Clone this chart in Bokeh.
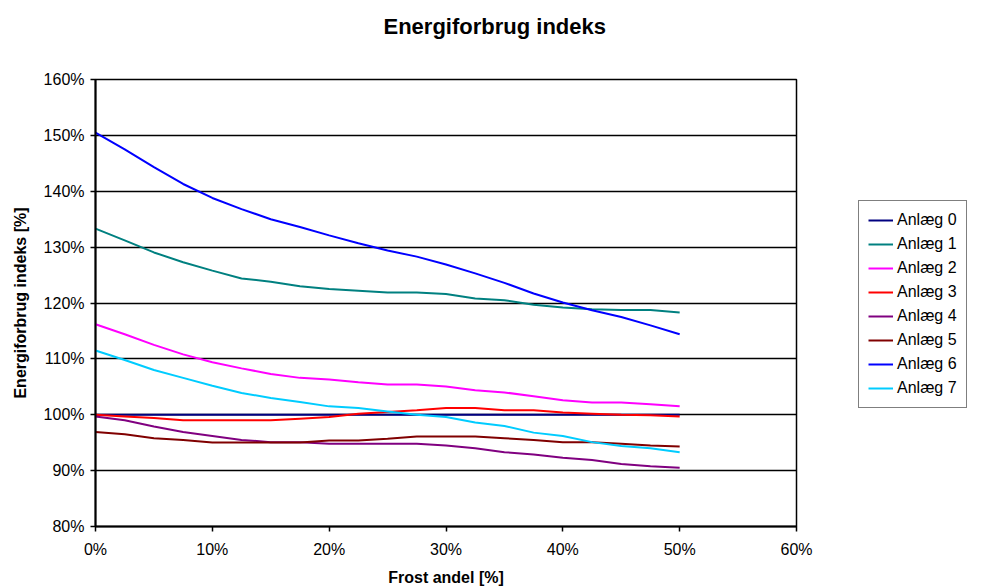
from bokeh.plotting import figure
from bokeh.layouts import row
from bokeh.models import (Range1d, FixedTicker, PrintfTickFormatter, Legend, LegendItem, Title)
from bokeh.embed import file_html
from bokeh.resources import INLINE

# Frost share [%] on the x axis
frost = [0, 2.5, 5, 7.5, 10, 12.5, 15, 17.5, 20, 22.5, 25,
         27.5, 30, 32.5, 35, 37.5, 40, 42.5, 45, 47.5, 50]

# Energy use index [%] per plant
anlaeg_0 = [100.0] * 21
anlaeg_1 = [133.3, 131.2, 129.05, 127.3, 125.8, 124.4, 123.8, 123.0, 122.5, 122.2, 121.9,
            121.9, 121.6, 120.8, 120.5, 119.7, 119.2, 118.9, 118.75, 118.75, 118.3]
anlaeg_2 = [116.2, 114.4, 112.5, 110.8, 109.4, 108.3, 107.3, 106.6, 106.3, 105.8, 105.4,
            105.4, 105.05, 104.4, 104.0, 103.3, 102.6, 102.2, 102.2, 101.9, 101.5]
anlaeg_3 = [100.0, 99.7, 99.4, 99.0, 99.0, 99.0, 99.0, 99.3, 99.6, 100.2, 100.5,
            100.8, 101.2, 101.2, 100.8, 100.8, 100.4, 100.2, 100.0, 99.9, 99.7]
anlaeg_4 = [99.7, 99.0, 97.9, 96.9, 96.2, 95.5, 95.1, 95.1, 94.8, 94.8, 94.8,
            94.8, 94.5, 94.0, 93.3, 92.9, 92.3, 91.9, 91.2, 90.8, 90.5]
anlaeg_5 = [96.9, 96.5, 95.8, 95.5, 95.05, 95.05, 95.05, 95.05, 95.4, 95.4, 95.7,
            96.1, 96.1, 96.1, 95.8, 95.5, 95.1, 95.1, 94.8, 94.5, 94.3]
anlaeg_6 = [150.5, 147.5, 144.3, 141.3, 138.8, 136.8, 135.0, 133.6, 132.1, 130.7, 129.4,
            128.3, 126.9, 125.3, 123.6, 121.7, 120.1, 118.7, 117.5, 116.0, 114.4]
anlaeg_7 = [111.5, 109.8, 108.0, 106.6, 105.2, 103.9, 103.0, 102.3, 101.5, 101.2, 100.6,
            100.0, 99.6, 98.6, 98.0, 96.8, 96.2, 95.1, 94.4, 94.0, 93.3]

series_names = ["Anlæg 0", "Anlæg 1", "Anlæg 2", "Anlæg 3",
                "Anlæg 4", "Anlæg 5", "Anlæg 6", "Anlæg 7"]
series_values = [anlaeg_0, anlaeg_1, anlaeg_2, anlaeg_3,
                 anlaeg_4, anlaeg_5, anlaeg_6, anlaeg_7]
series_colors = ["#000080", "#008080", "#FF00FF", "#FF0000",
                 "#800080", "#800000", "#0000FF", "#00CCFF"]

x_ticks = [0, 10, 20, 30, 40, 50, 60]
y_ticks = [80, 90, 100, 110, 120, 130, 140, 150, 160]

FONT = "Liberation Sans"

# ---- main chart ----
p = figure(width=830, height=588, output_backend="svg", toolbar_location=None,
           x_range=Range1d(0, 60), y_range=Range1d(80, 160),
           min_border_left=95, min_border_right=34,
           min_border_top=79, min_border_bottom=61)

# spacer panel between the frame and the title, then the title itself
p.add_layout(Title(text=" ", text_font_size="10px", standoff=26), "above")
p.add_layout(Title(text="Energiforbrug indeks", text_font=FONT, text_font_size="22px",
                   text_font_style="bold", text_color="black", align="left",
                   offset=288, vertical_align="top", standoff=0), "above")

p.background_fill_color = "white"
p.border_fill_color = "white"
p.outline_line_color = "black"
p.outline_line_width = 1.5

p.xgrid.visible = False
p.ygrid.ticker = FixedTicker(ticks=y_ticks)
p.ygrid.grid_line_color = "black"
p.ygrid.grid_line_width = 1.5
p.ygrid.grid_line_alpha = 1.0

for ax in (p.xaxis[0], p.yaxis[0]):
    ax.formatter = PrintfTickFormatter(format="%d%%")
    ax.axis_line_color = "black"
    ax.axis_line_width = 2
    ax.major_tick_line_color = "black"
    ax.major_tick_line_width = 1.5
    ax.major_tick_out = 5
    ax.major_tick_in = 0
    ax.minor_tick_line_color = None
    ax.major_label_text_font = FONT
    ax.major_label_text_font_size = "16px"
    ax.major_label_text_color = "black"
    ax.axis_label_text_font = FONT
    ax.axis_label_text_font_size = "16px"
    ax.axis_label_text_font_style = "bold"
    ax.axis_label_text_color = "black"

p.xaxis.ticker = FixedTicker(ticks=x_ticks)
p.yaxis.ticker = FixedTicker(ticks=y_ticks)
p.xaxis.axis_label = "Frost andel [%]"
p.yaxis.axis_label = "Energiforbrug indeks [%]"
p.xaxis.major_label_standoff = 9
p.yaxis.major_label_standoff = 6
p.xaxis.axis_label_standoff = 8
p.yaxis.axis_label_standoff = 12

for vals, col in zip(series_values, series_colors):
    p.line(x=frost, y=vals, line_color=col, line_width=2)

# ---- legend panel on the right ----
lg = figure(width=156, height=588, output_backend="svg", toolbar_location=None,
            x_axis_type=None, y_axis_type=None, min_border=0,
            x_range=Range1d(0, 1), y_range=Range1d(0, 1))
lg.grid.visible = False
lg.outline_line_color = None
lg.background_fill_color = "white"
lg.border_fill_color = "white"

items = []
for name, vals, col in zip(series_names, series_values, series_colors):
    r = lg.line(x=frost, y=vals, line_color=col, line_width=2)
    items.append(LegendItem(label=name, renderers=[r]))

legend = Legend(items=items, location=(28, 118))
legend.label_text_font = FONT
legend.label_text_font_size = "16px"
legend.label_text_color = "black"
legend.glyph_width = 25
legend.glyph_height = 20
legend.label_height = 20
legend.label_standoff = 4
legend.spacing = 4
legend.padding = 9
legend.margin = 0
legend.border_line_color = "black"
legend.border_line_width = 1.5
legend.background_fill_color = "white"
legend.background_fill_alpha = 1.0
lg.add_layout(legend)

layout = row(p, lg, spacing=0)
open("out.html", "w").write(file_html(layout, INLINE))
